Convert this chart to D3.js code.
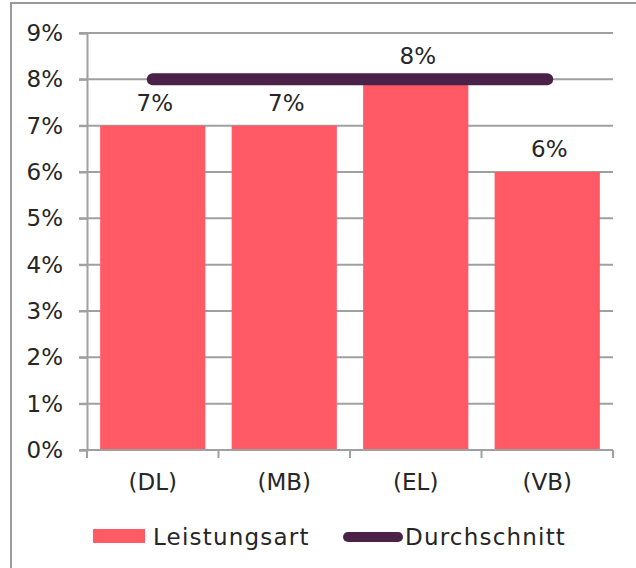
<!DOCTYPE html>
<html>
<head>
<meta charset="utf-8">
<script src="https://cdn.jsdelivr.net/npm/d3@7"></script>
<style>
  body { margin: 0; background: #fff; }
  svg { display: block; font-family: "DejaVu Sans", sans-serif; }
</style>
</head>
<body>
<svg width="636" height="568"></svg>
<script>
// categories and values
var categories = ["(DL)", "(MB)", "(EL)", "(VB)"];
var leistungsart = [0.07, 0.07, 0.08, 0.06];
var durchschnitt = [0.08, 0.08, 0.08, 0.08];
var yTicks = [0, 0.01, 0.02, 0.03, 0.04, 0.05, 0.06, 0.07, 0.08, 0.09];
var seriesNames = ["Leistungsart", "Durchschnitt"];

var svg = d3.select("svg");
var textColor = "#262626";
var gridColor = "#a0a0a0";
var barColor = "#ff5a66";
var lineColor = "#4a2248";

//outer frame (runs off the right and bottom edge)
svg.append("rect")
  .attr("x", 11).attr("y", 3)
  .attr("width", 640).attr("height", 580)
  .style("fill", "none")
  .style("stroke", "#9a9a9a")
  .style("stroke-width", 2);

var xScale = d3.scaleBand().domain(categories).range([87, 613])
  .paddingInner(0.2).paddingOuter(0.1);
var yScale = d3.scaleLinear().domain([0, 0.09]).range([450, 33]);
var pct = d3.format(".0%");

//gridlines
svg.append("g")
  .selectAll("line")
  .data(yTicks)
  .enter()
  .append("line")
  .attr("x1", 79).attr("x2", 613)
  .attr("y1", function(d) {return yScale(d)})
  .attr("y2", function(d) {return yScale(d)})
  .style("stroke", gridColor)
  .style("stroke-width", 2);

//y axis
var yAxis = d3.axisLeft(yScale).tickValues(yTicks).tickFormat(pct)
  .tickSize(8).tickPadding(16);
svg.append("g")
  .attr("transform", "translate(87,0)")
  .call(yAxis)
  .call(function(g) {
    g.select(".domain").style("stroke", gridColor).style("stroke-width", 2);
    g.selectAll(".tick line").style("stroke", gridColor).style("stroke-width", 2);
    g.selectAll("text").style("font-size", "23px").style("fill", textColor)
      .style("font-family", "DejaVu Sans");
  });

//bars
svg.append("g")
  .selectAll("rect")
  .data(leistungsart)
  .enter()
  .append("rect")
  .attr("x", function(d, i) {return xScale(categories[i])})
  .attr("width", xScale.bandwidth())
  .attr("y", function(d) {return yScale(d)})
  .attr("height", function(d) {return yScale(0) - yScale(d)})
  .style("fill", barColor);

//x axis with ticks at the category boundaries
var step = xScale.step();
var bounds = d3.range(categories.length + 1).map(function(i) {return 87 + i * step});
svg.append("line")
  .attr("x1", 87).attr("x2", 613)
  .attr("y1", yScale(0)).attr("y2", yScale(0))
  .style("stroke", gridColor).style("stroke-width", 2);
svg.append("g")
  .selectAll("line")
  .data(bounds)
  .enter()
  .append("line")
  .attr("x1", function(d) {return d}).attr("x2", function(d) {return d})
  .attr("y1", yScale(0)).attr("y2", yScale(0) + 8)
  .style("stroke", gridColor).style("stroke-width", 2);

svg.append("g")
  .selectAll("text")
  .data(categories)
  .enter()
  .append("text")
  .attr("x", function(d) {return xScale(d) + xScale.bandwidth() / 2})
  .attr("y", 490)
  .attr("text-anchor", "middle")
  .style("font-size", "23px")
  .style("fill", textColor)
  .text(function(d) {return d});

//average line
var line = d3.line()
  .x(function(d, i) {return xScale(categories[i]) + xScale.bandwidth() / 2})
  .y(function(d) {return yScale(d)});
svg.append("path")
  .datum(durchschnitt)
  .attr("d", line)
  .style("fill", "none")
  .style("stroke", lineColor)
  .style("stroke-width", 12)
  .style("stroke-linecap", "round");

//value labels
svg.append("g")
  .selectAll("text")
  .data(leistungsart)
  .enter()
  .append("text")
  .attr("x", function(d, i) {return xScale(categories[i]) + xScale.bandwidth() / 2 + 2})
  .attr("y", function(d) {return yScale(d) - 15})
  .attr("text-anchor", "middle")
  .style("font-size", "23px")
  .style("fill", textColor)
  .text(function(d) {return pct(d)});

//legend
var legend = svg.append("g");
legend.append("rect")
  .attr("x", 93).attr("y", 529).attr("width", 52).attr("height", 14)
  .style("fill", barColor);
legend.append("text")
  .attr("x", 153).attr("y", 545)
  .style("font-size", "23px").style("letter-spacing", "1.2px")
  .style("fill", textColor)
  .text(seriesNames[0]);
legend.append("line")
  .attr("x1", 348).attr("x2", 398).attr("y1", 537).attr("y2", 537)
  .style("stroke", lineColor).style("stroke-width", 10)
  .style("stroke-linecap", "round");
legend.append("text")
  .attr("x", 405).attr("y", 545)
  .style("font-size", "23px").style("letter-spacing", "1.2px")
  .style("fill", textColor)
  .text(seriesNames[1]);
</script>
</body>
</html>
